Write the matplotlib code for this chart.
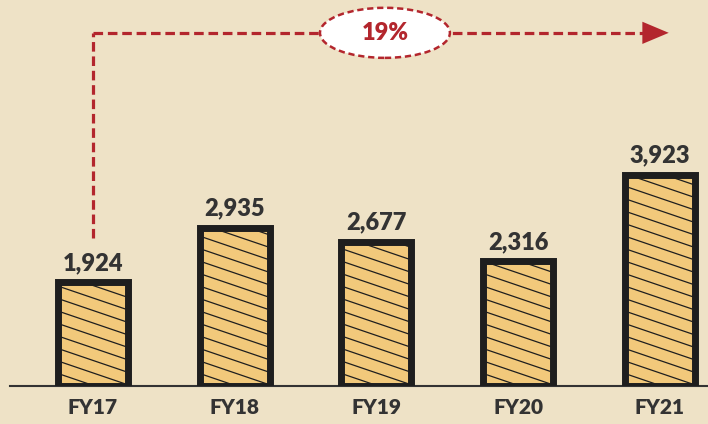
import numpy as np
import matplotlib
matplotlib.use("Agg")
import matplotlib.pyplot as plt
from matplotlib.patches import Ellipse

plt.rcParams['font.family'] = ['Lato', 'DejaVu Sans']

# data
years = ["FY17", "FY18", "FY19", "FY20", "FY21"]
values = [1924, 2935, 2677, 2316, 3923]
cagr_label = "19%"

# colours
bg = "#EEE2C6"
bar_fill = "#F2C97B"
edge = "#1E1E1E"
red = "#B3262D"
txt = "#333333"

fig = plt.figure(figsize=(7.08, 4.24), dpi=100, facecolor=bg)
ax = fig.add_axes([10 / 708, 38 / 424, 698 / 708, 386 / 424])
ax.set_facecolor(bg)

x = np.arange(len(years))
bars = ax.bar(x, values, width=0.494, color=bar_fill, edgecolor="none", zorder=2)

# slanted hatch lines clipped to each bar
slope = -896.0   # value units per category unit (~19 deg on screen)
step = 232.0
for b in bars:
    x0, w, h = b.get_x(), b.get_width(), b.get_height()
    xs = np.array([x0 - 0.05, x0 + w + 0.05])
    for c in np.arange(-step, h - slope * w + step, step):
        ln, = ax.plot(xs, c + slope * (xs - x0), color=edge, lw=0.9, zorder=3)
        ln.set_clip_path(b)

# thick outline on top
ax.bar(x, values, width=0.494, fill=False, edgecolor=edge, linewidth=5, zorder=4)

for xi, v in zip(x, values):
    ax.annotate(f"{v:,}", (xi, v), xytext=(0, 6), textcoords="offset points",
                ha="center", va="bottom", fontsize=17, fontweight="heavy",
                color=txt, zorder=5)

ax.set_xlim(-0.586, 4.34)
ax.set_ylim(0, 7170)
ax.set_xticks(x)
ax.set_xticklabels(years, fontsize=15, fontweight="heavy", color=txt)
ax.tick_params(axis="x", length=0, pad=9)
ax.set_yticks([])
for s in ["top", "right", "left"]:
    ax.spines[s].set_visible(False)
ax.spines["bottom"].set_color(txt)
ax.spines["bottom"].set_linewidth(1.5)

# growth arrow
y_arrow = 6560
ax.plot([0, 0], [2750, y_arrow], color=red, lw=2.3, ls=(0, (3, 1.5)),
        solid_capstyle="butt", zorder=5)
ax.plot([0, 3.9], [y_arrow, y_arrow], color=red, lw=2.3, ls=(0, (3, 1.5)),
        zorder=5)
ax.annotate("", xy=(4.063, y_arrow), xytext=(3.88, y_arrow),
            arrowprops=dict(arrowstyle="-|>,head_length=1.9,head_width=0.8",
                            mutation_scale=10, color=red, lw=0,
                            shrinkA=0, shrinkB=0),
            annotation_clip=False, zorder=6)

ell = Ellipse((2.06, y_arrow), 0.917, 930, facecolor="white", edgecolor=red,
              lw=1.8, ls=(0, (2.5, 1.5)), zorder=7)
ax.add_patch(ell)
ax.text(2.06, y_arrow, cagr_label, ha="center", va="center", fontsize=17,
        fontweight="heavy", color=red, zorder=8)

fig.savefig("out.png", dpi=100, facecolor=bg)
